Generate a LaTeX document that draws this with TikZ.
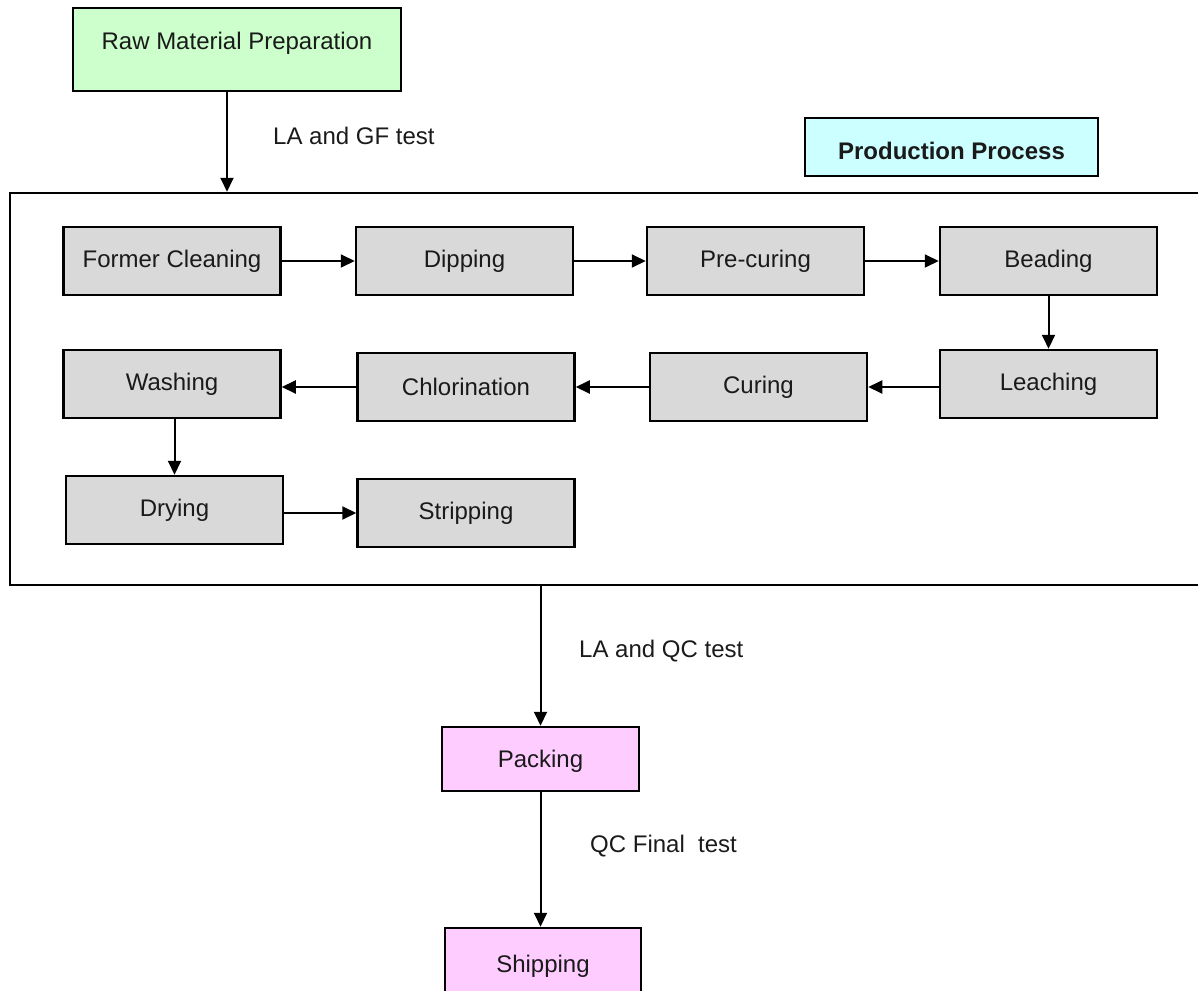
\documentclass[tikz,border=0pt]{standalone}
\usepackage{fontspec}
\setmainfont{Liberation Sans}
\usetikzlibrary{arrows.meta}
\definecolor{rawgreen}{HTML}{CCFFCC}
\definecolor{titlecyan}{HTML}{CCFFFF}
\definecolor{shippink}{HTML}{FFCCFF}
\definecolor{stepgray}{HTML}{D9D9D9}
\definecolor{inkgray}{HTML}{1A1A1A}
% text raised by #1 above the optical centre of its box
\newcommand{\shifted}[2]{\raisebox{#1}[0pt][0pt]{#2}}
\begin{document}
\begin{tikzpicture}[x=1pt,y=-1pt,
  every node/.style={font=\fontsize{24}{28}\selectfont, inner sep=0pt, text=inkgray},
  box/.style={draw, line width=2.5pt, rectangle, align=center},
  stepbox/.style={box, fill=stepgray, minimum width=217pt, minimum height=68pt},
  arr/.style={line width=2pt, -{Triangle[length=14pt,width=13pt]}},
  lbl/.style={anchor=west}
]
\useasboundingbox (0,0) rectangle (1198,990);

% outer frame of the production process
\node[draw, line width=2.5pt, minimum width=1196pt, minimum height=392pt] (proc) at (608,389) {};

% top and bottom stages
\node[box, fill=rawgreen, minimum width=328pt, minimum height=83pt] (raw) at (237,49.5) {\shifted{0pt}{Raw Material Preparation}};
\node[box, fill=titlecyan, minimum width=293pt, minimum height=58pt] (title) at (951.5,147) {\shifted{-12.5pt}{\bfseries Production Process}};
\node[box, fill=shippink, minimum width=197pt, minimum height=64pt] (pack) at (540.5,759) {\shifted{-8.5pt}{Packing}};
\node[box, fill=shippink, minimum width=196pt, minimum height=72pt] (ship) at (543,964) {\shifted{-8pt}{Shipping}};

% process steps
\node[stepbox] (fc)    at (172,261)   {Former Cleaning};
\node[stepbox] (dip)   at (464.5,261) {Dipping};
\node[stepbox] (pre)   at (755.5,261) {Pre-curing};
\node[stepbox] (bead)  at (1048.5,261) {Beading};
\node[stepbox] (leach) at (1048.5,384) {Leaching};
\node[stepbox] (cure)  at (758.5,387) {Curing};
\node[stepbox] (chlor) at (466,387)   {Chlorination};
\node[stepbox] (wash)  at (172,384)   {Washing};
\node[stepbox] (dry)   at (174.5,510) {Drying};
\node[stepbox] (strip) at (466,513)   {Stripping};

% flow inside the frame
\draw[arr] (fc) -- (dip);
\draw[arr] (dip) -- (pre);
\draw[arr] (pre) -- (bead);
\draw[arr] (bead.south) -- (leach.north);
\draw[arr] (leach.west |- cure.east) -- (cure.east);
\draw[arr] (cure) -- (chlor);
\draw[arr] (chlor.west) -- (chlor.west -| wash.east);
\draw[arr] (wash.south -| dry.north) -- (dry.north);
\draw[arr] (dry.east |- strip.west) -- (strip.west);

% flow between stages
\coordinate (rawout) at ([xshift=-10pt]raw.south);
\draw[arr] (rawout) -- (rawout |- proc.north);
\draw[arr] (proc.south -| pack.north) -- (pack.north);
\draw[arr] (pack.south) -- (pack.south |- ship.north);

% test labels
\node[lbl] (la1) at (273,136) {LA and GF test};
\node[lbl] (la2) at (579,651) {LA and QC test};
\node[lbl] (qc)  at (590,846) {QC Final\ \ test};
\end{tikzpicture}
\end{document}
